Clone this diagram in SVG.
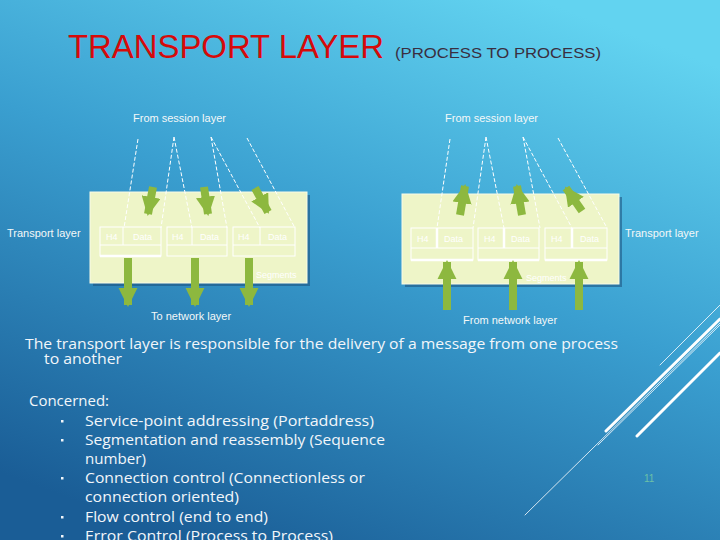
<svg xmlns="http://www.w3.org/2000/svg" width="720" height="540" viewBox="0 0 720 540">
<defs>
<linearGradient id="bg" x1="0.75" y1="0" x2="0.25" y2="1">
<stop offset="0" stop-color="#62d3f0"/>
<stop offset="0.45" stop-color="#3a9fd0"/>
<stop offset="1" stop-color="#1a5d96"/>
</linearGradient>
<marker id="ah" viewBox="0 0 10 10" refX="9" refY="5" markerWidth="2.4" markerHeight="2.4" markerUnits="strokeWidth" orient="auto">
<path d="M0,0 L10,5 L0,10 z" fill="#8db83f"/>
</marker>
</defs>
<style>
.lbl{font-family:"Liberation Sans",Arial,sans-serif;font-size:11px;fill:#f4f8f8}
.box{fill:#eef5c8;stroke:#f8fbe8;stroke-width:1}
.shadow{fill:#1c4f7a;opacity:0.55}
.seg{fill:none;stroke:#ffffff;stroke-width:1}
.st{font-family:"Liberation Sans",Arial,sans-serif;font-size:9px;fill:#ffffff}
.dash{stroke:#ffffff;stroke-width:1;stroke-dasharray:4 2;fill:none}
.arr{stroke:#8db83f;stroke-width:8;fill:none;marker-end:url(#ah)}
.body{font-family:"Open Sans","DejaVu Sans",sans-serif;font-size:15px;fill:#f2f6fa}
.bul{fill:#f2f6fa}
.deco{stroke:#ffffff;fill:none;stroke-linecap:round}
</style>
<rect width="720" height="540" fill="url(#bg)"/>

<g id="title">
<text x="68" y="58" font-family="Liberation Sans,Arial,sans-serif" font-size="34" fill="#d60a0a" textLength="316" lengthAdjust="spacingAndGlyphs">TRANSPORT LAYER</text>
<text x="395" y="58" font-family="Liberation Sans,Arial,sans-serif" font-size="15" fill="#3a2e40" textLength="206" lengthAdjust="spacingAndGlyphs">(PROCESS TO  PROCESS)</text>
</g>

<g id="left-diagram">
<rect class="shadow" x="93" y="195" width="217" height="91"/>
<rect class="box" x="90" y="192" width="217" height="91"/>
<g id="left-seg1">
<rect class="seg" x="100" y="227" width="61" height="29"/>
<line class="seg" x1="100" y1="245" x2="161" y2="245"/>
<line class="seg" x1="123" y1="227" x2="123" y2="245"/>
<line x1="100" y1="256" x2="161" y2="256" stroke="#ffffff" stroke-width="2.5"/>
<text class="st" x="106" y="240">H4</text><text class="st" x="133" y="240">Data</text>
</g>
<g id="left-seg2">
<rect class="seg" x="167" y="227" width="60" height="29"/>
<line class="seg" x1="167" y1="245" x2="227" y2="245"/>
<line class="seg" x1="192" y1="227" x2="192" y2="245"/>
<text class="st" x="172" y="240">H4</text><text class="st" x="200" y="240">Data</text>
</g>
<g id="left-seg3">
<rect class="seg" x="233" y="227" width="62" height="29"/>
<line class="seg" x1="233" y1="245" x2="295" y2="245"/>
<line class="seg" x1="260" y1="227" x2="260" y2="245"/>
<text class="st" x="238" y="240">H4</text><text class="st" x="268" y="240">Data</text>
</g>
<text class="st" x="256" y="278" font-size="10">Segments</text>
<text class="lbl" x="133" y="122">From session layer</text>
<text class="lbl" x="7" y="237">Transport layer</text>
<text class="lbl" x="151" y="320">To network layer</text>
</g>

<g id="right-diagram">
<rect class="shadow" x="405" y="197" width="217" height="90"/>
<rect class="box" x="402" y="194" width="217" height="90"/>
<g id="right-seg1">
<rect class="seg" x="411" y="228" width="62" height="32"/>
<line class="seg" x1="411" y1="248" x2="473" y2="248"/>
<line x1="437" y1="228" x2="437" y2="248" stroke="#ffffff" stroke-width="2.5"/>
<line x1="411" y1="260" x2="473" y2="260" stroke="#ffffff" stroke-width="2.5"/>
<text class="st" x="417" y="242">H4</text><text class="st" x="444" y="242">Data</text>
</g>
<g id="right-seg2">
<rect class="seg" x="478" y="228" width="61" height="32"/>
<line class="seg" x1="478" y1="248" x2="539" y2="248"/>
<line x1="504" y1="228" x2="504" y2="248" stroke="#ffffff" stroke-width="2.5"/>
<line x1="478" y1="260" x2="539" y2="260" stroke="#ffffff" stroke-width="2.5"/>
<text class="st" x="484" y="242">H4</text><text class="st" x="511" y="242">Data</text>
</g>
<g id="right-seg3">
<rect class="seg" x="545" y="228" width="62" height="32"/>
<line class="seg" x1="545" y1="248" x2="607" y2="248"/>
<line x1="572" y1="228" x2="572" y2="248" stroke="#ffffff" stroke-width="2.5"/>
<line x1="545" y1="260" x2="607" y2="260" stroke="#ffffff" stroke-width="2.5"/>
<text class="st" x="551" y="242">H4</text><text class="st" x="580" y="242">Data</text>
</g>
<text class="st" x="526" y="281" font-size="10">Segments</text>
<text class="lbl" x="445" y="122">From session layer</text>
<text class="lbl" x="625" y="237">Transport layer</text>
<text class="lbl" x="463" y="324">From network layer</text>
</g>

<g id="connectors">
<line class="dash" x1="138" y1="139" x2="124" y2="228"/>
<line class="dash" x1="174" y1="137" x2="161" y2="228"/>
<line class="dash" x1="174" y1="137" x2="192" y2="228"/>
<line class="dash" x1="211" y1="137" x2="227" y2="228"/>
<line class="dash" x1="211" y1="137" x2="260" y2="228"/>
<line class="dash" x1="247" y1="138" x2="295" y2="228"/>
<line class="dash" x1="450" y1="139" x2="437" y2="228"/>
<line class="dash" x1="486" y1="137" x2="473" y2="228"/>
<line class="dash" x1="486" y1="137" x2="504" y2="228"/>
<line class="dash" x1="523" y1="137" x2="540" y2="228"/>
<line class="dash" x1="523" y1="137" x2="572" y2="228"/>
<line class="dash" x1="558" y1="138" x2="607" y2="228"/>
<line class="arr" x1="153" y1="187" x2="148" y2="214"/>
<line class="arr" x1="204" y1="187" x2="208" y2="214"/>
<line class="arr" x1="255" y1="188" x2="268" y2="212"/>
<line class="arr" x1="128" y1="258" x2="128" y2="305"/>
<line class="arr" x1="195" y1="258" x2="195" y2="305"/>
<line class="arr" x1="249" y1="258" x2="249" y2="305"/>
<line class="arr" x1="460" y1="215" x2="465" y2="186"/>
<line class="arr" x1="522" y1="215" x2="517" y2="186"/>
<line class="arr" x1="582" y1="211" x2="566" y2="188"/>
<line class="arr" x1="447" y1="310" x2="447" y2="262"/>
<line class="arr" x1="513" y1="310" x2="513" y2="262"/>
<line class="arr" x1="579" y1="310" x2="579" y2="262"/>
</g>

<g id="body-text">
<text class="body" x="25" y="349" textLength="593" lengthAdjust="spacingAndGlyphs">The transport layer is responsible for the delivery of a message from one process</text>
<text class="body" x="44" y="364" textLength="78" lengthAdjust="spacingAndGlyphs">to another</text>
<text class="body" x="29" y="406" textLength="80" lengthAdjust="spacingAndGlyphs">Concerned:</text>
<rect class="bul" x="61" y="420" width="2.5" height="2.5"/>
<rect class="bul" x="61" y="439" width="2.5" height="2.5"/>
<rect class="bul" x="61" y="477" width="2.5" height="2.5"/>
<rect class="bul" x="61" y="516" width="2.5" height="2.5"/>
<rect class="bul" x="61" y="535" width="2.5" height="2.5"/>
<text class="body" x="85" y="426" textLength="289" lengthAdjust="spacingAndGlyphs">Service-point addressing (Portaddress)</text>
<text class="body" x="85" y="445" textLength="300" lengthAdjust="spacingAndGlyphs">Segmentation and reassembly (Sequence</text>
<text class="body" x="85" y="464" textLength="61" lengthAdjust="spacingAndGlyphs">number)</text>
<text class="body" x="85" y="483" textLength="280" lengthAdjust="spacingAndGlyphs">Connection control (Connectionless or</text>
<text class="body" x="85" y="502" textLength="154" lengthAdjust="spacingAndGlyphs">connection oriented)</text>
<text class="body" x="85" y="522" textLength="183" lengthAdjust="spacingAndGlyphs">Flow control (end to end)</text>
<text class="body" x="85" y="541" textLength="248" lengthAdjust="spacingAndGlyphs">Error Control (Process to Process)</text>
<text x="644" y="482" font-family="Liberation Sans,Arial,sans-serif" font-size="10" fill="#6cc0a8">11</text>
</g>

<g id="decoration">
<line class="deco" x1="525" y1="515" x2="720" y2="323" stroke-width="0.8"/>
<line class="deco" x1="660" y1="365" x2="720" y2="305" stroke-width="0.8"/>
<line class="deco" x1="606" y1="431" x2="720" y2="319" stroke-width="3"/>
<line class="deco" x1="637" y1="436" x2="720" y2="353" stroke-width="3"/>
<line class="deco" x1="598" y1="445" x2="720" y2="325" stroke-width="0.8"/>
</g>
</svg>
